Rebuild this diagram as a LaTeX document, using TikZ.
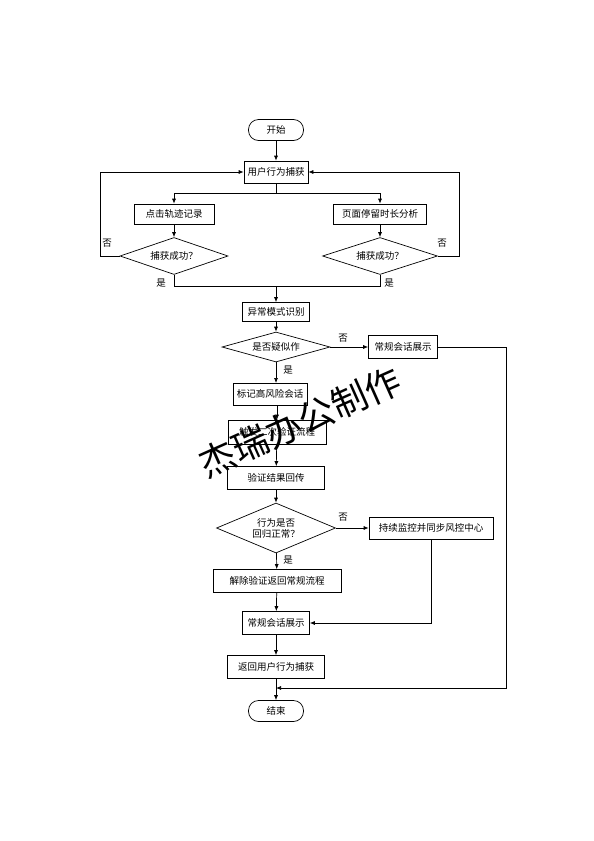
\documentclass[tikz,border=0pt]{standalone}
\usepackage{fontspec}
\newfontfamily\cjk{Noto Sans CJK SC}
\usetikzlibrary{arrows.meta, shapes.geometric}

\begin{document}
\begin{tikzpicture}[x=1pt, y=-1pt,
    font=\cjk\fontsize{9.5}{11}\selectfont,
    box/.style={draw, line width=0.7pt, minimum height=22pt, inner sep=2pt},
    decision/.style={draw, diamond, line width=0.7pt, inner sep=0pt, align=center},
    terminal/.style={draw, line width=0.7pt, rounded corners=10pt, minimum width=55pt, minimum height=21pt},
    flow/.style={line width=0.7pt, -{Latex[length=5pt,width=4pt]}},
    plain/.style={line width=0.7pt},
    tag/.style={inner sep=1pt}]
    \useasboundingbox (0,0) rectangle (594,841);

    % Capture stage
    \node[terminal] (start) at (276,130) {开始};
    \node[box, minimum width=64pt] (capture) at (276,172) {用户行为捕获};
    \node[box, minimum width=80pt, minimum height=20pt] (click) at (174,214) {点击轨迹记录};
    \node[box, minimum width=93pt, minimum height=20pt] (stay) at (380,214) {页面停留时长分析};
    \node[decision, minimum width=108pt, minimum height=37pt, aspect=2.9] (okleft) at (174,256) {捕获成功？};
    \node[decision, minimum width=115pt, minimum height=37pt, aspect=3.1] (okright) at (380,256) {捕获成功？};
    \coordinate (split) at (276,193);
    \coordinate (join) at (276,286);

    % Detection stage
    \node[box, minimum width=67pt, minimum height=19pt] (anomaly) at (276,312) {异常模式识别};
    \node[decision, minimum width=108pt, minimum height=30pt, aspect=3.6] (suspect) at (276,347) {是否疑似作};
    \node[box, minimum width=69pt, minimum height=23pt] (normalA) at (403,347) {常规会话展示};
    \node[box, minimum width=74pt] (mark) at (270,394) {标记高风险会话};
    \node[box, minimum width=98pt, minimum height=24pt] (trigger) at (277,432) {触发二次验证流程};
    \node[box, minimum width=97pt, minimum height=23pt] (verify) at (276,478) {验证结果回传};
    \node[decision, minimum width=119pt, minimum height=50pt, aspect=2.4] (back2normal) at (276,528) {行为是否\\回归正常？};
    \node[box, minimum width=124pt] (monitor) at (431,528) {持续监控并同步风控中心};
    \node[box, minimum width=128pt, minimum height=23pt] (release) at (277,581) {解除验证返回常规流程};
    \node[box, minimum width=67pt, minimum height=23pt] (normalB) at (276,623) {常规会话展示};
    \node[box, minimum width=97pt, minimum height=23pt] (recapture) at (276,667) {返回用户行为捕获};
    \coordinate (merge) at (276,688);
    \node[terminal] (stop) at (276,711) {结束};

    % Connectors
    \draw[flow] (start) -- (capture);
    \draw[plain] (capture) -- (split);
    \draw[flow] (split) -| (click);
    \draw[flow] (split) -| (stay);
    \draw[flow] (click) -- (okleft);
    \draw[flow] (stay) -- (okright);
    \draw[flow] (okleft.west) -- ++(-19,0) |- (capture.west);
    \draw[flow] (okright.east) -- ++(21,0) |- (capture.east);
    \draw[plain] (okleft.south) |- (join);
    \draw[plain] (okright.south) |- (join);
    \draw[flow] (join) -- (anomaly);
    \draw[flow] (anomaly) -- (suspect);
    \draw[flow] (suspect) -- (normalA);
    \draw[flow] (suspect.south) -- (276,383);
    \draw[flow] (277,405) -- (trigger);
    \draw[flow] (trigger) -- (verify);
    \draw[flow] (verify) -- (back2normal);
    \draw[flow] (back2normal) -- (monitor);
    \draw[flow] (back2normal) -- (release);
    \draw[flow] (release) -- (normalB);
    \draw[flow] (normalB) -- (recapture);
    \draw[flow] (monitor.south) |- (normalB.east);
    \draw[flow] (normalA.east) -- (506,347) |- (merge);
    \draw[flow] (recapture) -- (stop);

    % Branch labels
    \node[tag] (noA) at (107,243) {否};
    \node[tag] (noB) at (442,243) {否};
    \node[tag] (yesA) at (161,283) {是};
    \node[tag] (yesB) at (389,283) {是};
    \node[tag] (noC) at (343,338) {否};
    \node[tag] (yesC) at (288,370) {是};
    \node[tag] (noD) at (343,517) {否};
    \node[tag] (yesD) at (288,560) {是};

    % Watermark
    \node[rotate=24, font=\cjk\fontsize{36}{40}\selectfont] (mark2) at (300,422) {杰瑞办公制作};
\end{tikzpicture}
\end{document}
